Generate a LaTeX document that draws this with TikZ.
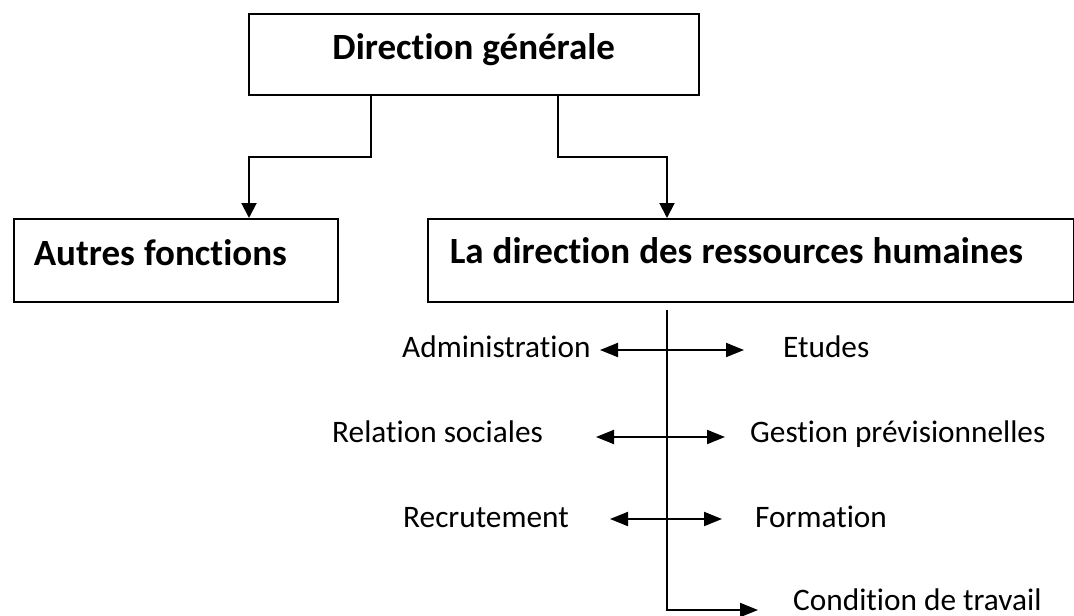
\documentclass[tikz,border=0pt]{standalone}
\usepackage{fontspec}
\setmainfont{Carlito}[Ligatures={NoCommon}]
\usetikzlibrary{arrows.meta}

\newcommand\narrowspaces{\spaceskip=0.245em plus 0.05em\relax}

\tikzset{
  unitbox/.style={draw, line width=1.5pt, rectangle, inner sep=0pt,
    font=\fontsize{37}{44}\selectfont\bfseries,
    execute at begin node=\narrowspaces},
  flow/.style={line width=2pt, -{Triangle[length=15pt,width=15pt]}},
  spine/.style={line width=1.3pt},
  twoway/.style={line width=2pt, {Triangle[length=18pt,width=14pt]}-{Triangle[length=18pt,width=14pt]}},
  oneway/.style={line width=2pt, -{Triangle[length=18pt,width=14pt]}},
  item/.style={inner sep=0pt, anchor=base west, font=\fontsize{31.3}{38}\selectfont},
}

\begin{document}
\begin{tikzpicture}[x=1pt, y=-1pt]
  \fill[white] (0,0) rectangle (1074,616);
  \useasboundingbox (0,0) rectangle (1074,616);

  % top unit
  \node[unitbox, anchor=north west, minimum width=450pt, minimum height=81pt,
        text height=46pt, text depth=35pt] (dg) at (248,13) {Direction générale};

  % second level
  \node[unitbox, anchor=north west, minimum width=324pt, minimum height=83pt,
        text height=47pt, text depth=36pt, text width=284pt, align=left]
        (af) at (13,218) {Autres fonctions};
  \node[unitbox, anchor=north west, minimum width=646pt, minimum height=83pt,
        text height=45pt, text depth=38pt, text width=602pt, align=left]
        (drh) at (427,218) {La direction des ressources humaines};

  % links from the top unit
  \draw[flow] ([xshift=123pt]dg.south west) -- ++(0,61) -| ([xshift=236pt]af.north west);
  \draw[flow] ([xshift=310pt]dg.south west) -- ++(0,61) -| ([xshift=240pt]drh.north west);

  % HR functions
  \node[item] (adm) at (402,357) {Administration};
  \node[item] (etu) at (783,357) {Etudes};
  \node[item] (rel) at (332,442) {Relation sociales};
  \node[item] (ges) at (750,442) {Gestion prévisionnelles};
  \node[item] (rec) at (403,527) {Recrutement};
  \node[item] (for) at (755,527) {Formation};
  \node[item] (con) at (793,610) {Condition de travail};

  % arrow ends beside the labels
  \coordinate (admE) at (600,350);
  \coordinate (etuW) at (744,350);
  \coordinate (relE) at (596,437);
  \coordinate (gesW) at (725,437);
  \coordinate (recE) at (610,519);
  \coordinate (forW) at (722,519);
  \coordinate (conW) at (758,610);

  % vertical spine under the HR unit
  \coordinate (top) at ([xshift=240pt,yshift=-7pt]drh.south west);
  \draw[spine] (top) |- ([xshift=-10pt]conW);
  \draw[oneway] ([xshift=-92pt]conW) -- (conW);

  \draw[twoway] (admE) -- (etuW);
  \draw[twoway] (relE) -- (gesW);
  \draw[twoway] (recE) -- (forW);
\end{tikzpicture}
\end{document}
